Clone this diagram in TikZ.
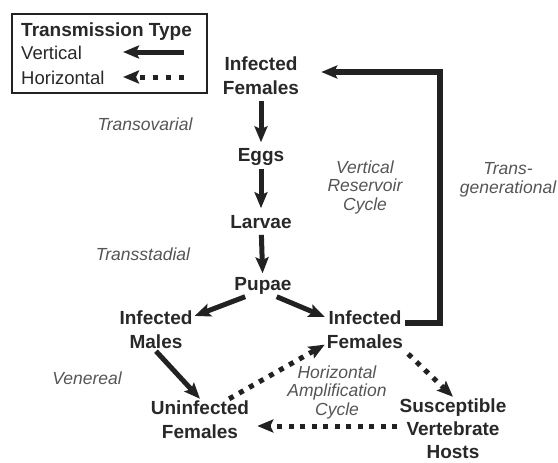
\documentclass[tikz,border=0pt]{standalone}
\usepackage{fontspec}
\setmainfont{Liberation Sans}
\definecolor{inkgray}{RGB}{34,34,34}
\definecolor{stagegray}{RGB}{40,40,40}
\definecolor{routegray}{RGB}{85,85,85}
\usetikzlibrary{arrows.meta,positioning,calc}

\begin{document}
\begin{tikzpicture}[x=1pt,y=-1pt,
  stage/.style={font=\fontsize{19}{24}\selectfont\bfseries,text=stagegray,align=center,inner sep=2pt},
  route/.style={font=\fontsize{17.5}{18.5}\selectfont\itshape,text=routegray,align=center,inner sep=0pt},
  keytext/.style={font=\fontsize{18.5}{22}\selectfont,text=stagegray,anchor=west,inner sep=0pt},
  varrow/.style={-{Stealth[length=16pt,width=13pt,inset=3pt]},line width=5pt,inkgray},
  harrow/.style={varrow,dash pattern=on 5pt off 6.5pt}
]
  \useasboundingbox (0,0) rectangle (558,463);

  % Legend
  \node[draw=inkgray,line width=1.6pt,minimum width=195pt,minimum height=79pt,inner sep=0pt] (key) at (109.5,53.5) {};
  \node[keytext,font=\fontsize{19}{22}\selectfont\bfseries] (keyhead) at (21,32) {Transmission Type};
  \node[keytext] (keyvert) at (21,53) {Vertical};
  \node[keytext] (keyhorz) at (21,78) {Horizontal};
  \coordinate (vtail) at (184,52);
  \coordinate (vhead) at (123,52);
  \coordinate (htail) at (184,77);
  \coordinate (hhead) at (123,77);
  \draw[varrow] (vtail) -- (vhead);
  \draw[harrow,dash pattern=on 5pt off 8pt] (htail) -- (hhead);

  % Life stages
  \node[stage] (iftop) at (261,76) {Infected\\Females};
  \node[stage] (eggs) at (261,157) {Eggs};
  \node[stage] (larvae) at (261,222) {Larvae};
  \node[stage] (pupae) at (263,286) {Pupae};
  \node[stage] (imale) at (156,330) {Infected\\Males};
  \node[stage] (ifem) at (365,330) {Infected\\Females};
  \node[stage] (ufem) at (200,420) {Uninfected\\Females};
  \node[stage,font=\fontsize{19}{23}\selectfont\bfseries] (hosts) at (453,429) {Susceptible\\Vertebrate\\Hosts};

  % Route labels
  \node[route] (ovar) at (145,124) {Transovarial};
  \node[route] (stad) at (143,254) {Transstadial};
  \node[route] (vener) at (87,378) {Venereal};
  \node[route] (vcycle) at (365,187) {Vertical\\Reservoir\\Cycle};
  \node[route] (tgen) at (508,180) {Trans-\\generational};
  \node[route] (hcycle) at (337,392) {Horizontal\\Amplification\\Cycle};

  % Vertical transmission
  \draw[varrow,shorten <=4pt,shorten >=4pt] (iftop) -- (eggs);
  \draw[varrow,shorten <=1pt,shorten >=5pt] (eggs) -- (larvae);
  \draw[varrow,shorten <=4pt,shorten >=2pt] (larvae) -- (pupae);
  \draw[varrow] (pupae.211) -- (imale.20);
  \draw[varrow] (pupae.322) -- (ifem.162);
  \draw[varrow] (imale.south) -- (ufem.north);
  \coordinate (bend) at (440,72);
  \draw[varrow,line width=5.5pt] ([yshift=7pt]ifem.east) -| (bend) -- ($(iftop.east |- bend)+(20,0)$);

  % Horizontal transmission
  \draw[harrow] (ufem.36) -- (ifem.200);
  \draw[harrow,shorten <=4pt] (ifem.south east) -- (hosts.north);
  \draw[harrow,shorten >=6pt] ([yshift=3pt]hosts.west) -- ([yshift=3pt]hosts.west -| ufem.east);
\end{tikzpicture}
\end{document}
